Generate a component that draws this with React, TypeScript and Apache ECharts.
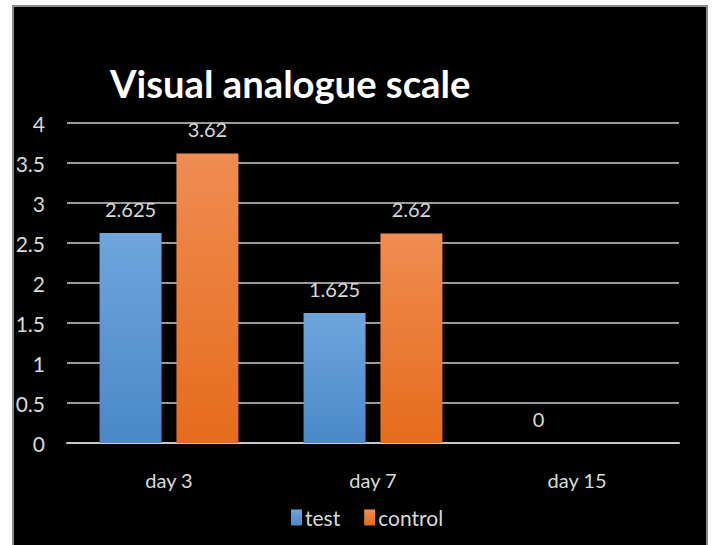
import React, { useEffect, useRef } from "react";
import * as echarts from "echarts";

const categories = ["day 3", "day 7", "day 15"];
const testValues = [2.625, 1.625, 0];
const controlValues: (number | null)[] = [3.62, 2.62, null];
const yTicks = { min: 0, max: 4, interval: 0.5 };
const titleText = "Visual analogue scale";

const FONT = "Lato, 'Open Sans', sans-serif";
const LABEL_COLOR = "#d9d9d9";

export default function App() {
  const ref = useRef<HTMLDivElement>(null);
  useEffect(() => {
    document.body.style.margin = "0";
    const chart = echarts.init(ref.current!, undefined, { renderer: "svg" });
    const grad = (top: string, bottom: string) =>
      new echarts.graphic.LinearGradient(0, 0, 0, 1, [
        { offset: 0, color: top },
        { offset: 1, color: bottom },
      ]);
    chart.setOption({
      animation: false,
      backgroundColor: "#ffffff",
      graphic: [
        {
          type: "rect",
          z: -10,
          shape: { x: 13, y: 6, width: 694, height: 545 },
          style: { fill: "#000000", stroke: "#8a8a8a", lineWidth: 2 },
        },
        {
          type: "text",
          x: 110,
          y: 63,
          style: {
            text: titleText,
            fill: "#ffffff",
            font: `bold 39px ${FONT}`,
          },
          scaleX: 0.98,
        },
      ],
      grid: { left: 67, right: 33, top: 123, bottom: 102, containLabel: false },
      legend: {
        left: 286,
        top: 502,
        itemWidth: 11,
        itemHeight: 16,
        itemGap: 24,
        icon: "rect",
        textStyle: { color: LABEL_COLOR, fontSize: 21, fontFamily: FONT, padding: [0, 0, 0, -2] },
        data: ["test", "control"],
      },
      xAxis: {
        type: "category",
        data: categories,
        axisLine: { lineStyle: { color: "#c8c8c8", width: 2 } },
        axisTick: { show: false },
        axisLabel: { color: LABEL_COLOR, fontSize: 20, fontFamily: FONT, margin: 27 },
      },
      yAxis: {
        type: "value",
        min: yTicks.min,
        max: yTicks.max,
        interval: yTicks.interval,
        axisLine: { show: false },
        axisTick: { show: false },
        splitLine: { lineStyle: { color: "#9a9a9a", width: 2 } },
        axisLabel: { color: LABEL_COLOR, fontSize: 21, fontFamily: FONT, margin: 22 },
      },
      series: [
        {
          name: "test",
          type: "bar",
          data: testValues,
          barWidth: 62,
          barGap: "24%",
          itemStyle: { color: grad("#6ea6dc", "#4a88c8") },
          label: {
            show: true,
            position: "top",
            distance: 14,
            color: LABEL_COLOR,
            fontSize: 20,
            fontFamily: FONT,
          },
        },
        {
          name: "control",
          type: "bar",
          data: controlValues,
          barWidth: 62,
          barGap: "24%",
          itemStyle: { color: grad("#f08c52", "#e56c1c") },
          label: {
            show: true,
            position: "top",
            distance: 14,
            color: LABEL_COLOR,
            fontSize: 20,
            fontFamily: FONT,
          },
        },
      ],
    });
    return () => chart.dispose();
  }, []);
  return <div ref={ref} style={{ width: 712, height: 545 }} />;
}
